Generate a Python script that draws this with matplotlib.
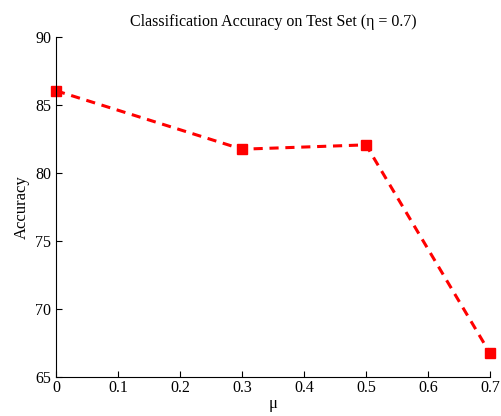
import matplotlib
matplotlib.use("Agg")
import matplotlib.pyplot as plt

mu = [0, 0.3, 0.5, 0.7]
accuracy = [86.05, 81.75, 82.07, 66.75]
xticks = [0, 0.1, 0.2, 0.3, 0.4, 0.5, 0.6, 0.7]
yticks = [65, 70, 75, 80, 85, 90]

plt.rcParams['font.family'] = ['Liberation Serif', 'DejaVu Serif']
fig = plt.figure(figsize=(5.01, 4.16), dpi=100)
ax = fig.add_axes([0.1118, 0.0938, 0.978 - 0.1118, 0.911 - 0.0938])
ax.plot(mu, accuracy, color='red', linestyle='--', linewidth=2.2, dashes=(3, 2.2),
        marker='s', markersize=6.5, markerfacecolor='red', markeredgecolor='red', clip_on=False)
ax.set_xlim(0, 0.7)
ax.set_ylim(65, 90)
ax.set_xticks(xticks)
ax.set_xticklabels([str(t) if t != 0 else '0' for t in xticks])
ax.set_yticks(yticks)
ax.spines['top'].set_visible(False)
ax.spines['right'].set_visible(False)
ax.tick_params(direction='in', length=4, labelsize=11.5, width=0.8)
ax.tick_params(axis='x', pad=2)
ax.set_xlabel('μ', fontsize=12, labelpad=0)
ax.set_ylabel('Accuracy', fontsize=12, labelpad=4)
ax.set_title('Classification Accuracy on Test Set (η = 0.7)', fontsize=11.5, pad=8)
fig.savefig('out.png', dpi=100)
